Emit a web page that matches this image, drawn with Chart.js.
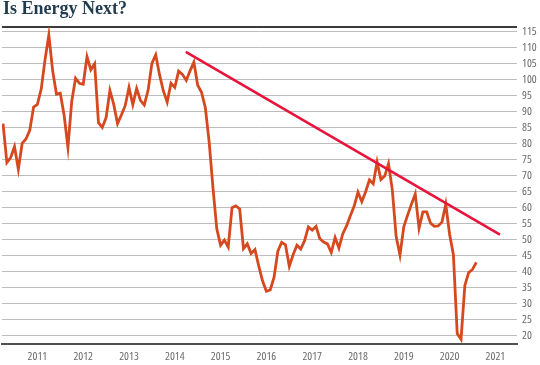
<!DOCTYPE html>
<html><head><meta charset="utf-8">
<script src="https://cdn.jsdelivr.net/npm/chart.js@4"></script>
<style>
html,body{margin:0;padding:0;background:#fff;}
#wrap{position:relative;width:540px;height:365px;overflow:hidden;}
#title{position:absolute;left:3px;top:-1px;font:bold 18px/18px "Liberation Serif","Times New Roman",serif;color:#1f3b4d;white-space:nowrap;}
canvas{position:absolute;left:0;top:0;}
</style></head><body>
<div id="wrap"><canvas id="c" width="540" height="365"></canvas><div id="title">Is Energy Next?</div></div>
<script>
// Month-end prices (first series starts April 2010)
const price2010 = [86.2, 74.0, 75.6, 79.0, 71.9, 80.0, 81.4, 84.1, 91.4]; // Apr-Dec
const price2011 = [92.2, 97.0, 106.2, 113.9, 102.7, 95.4, 95.7, 88.8, 78.8, 93.2, 100.4, 98.8];
const price2012 = [98.5, 107.1, 103.0, 104.9, 86.5, 85.0, 88.1, 96.5, 92.2, 86.2, 88.9, 91.8];
const price2013 = [97.5, 92.1, 97.2, 93.5, 92.0, 96.6, 105.0, 107.7, 101.5, 96.4, 92.9, 98.8];
const price2014 = [97.5, 102.6, 101.6, 99.7, 102.7, 105.4, 98.2, 96.0, 91.2, 80.5, 66.2, 53.3];
const price2015 = [48.2, 49.8, 47.6, 59.9, 60.5, 59.5, 47.1, 48.6, 45.6, 46.8, 41.7, 37.0];
const price2016 = [33.8, 34.2, 38.1, 46.3, 49.1, 48.3, 41.6, 45.2, 48.2, 47.0, 49.6, 53.9];
const price2017 = [52.9, 54.1, 50.2, 49.2, 48.6, 45.9, 50.6, 47.3, 51.7, 54.2, 57.4, 60.4];
const price2018 = [64.8, 61.8, 64.9, 68.6, 67.4, 74.2, 68.7, 69.8, 73.7, 65.4, 50.9, 45.1];
const price2019 = [53.9, 57.6, 61.0, 64.2, 53.5, 58.6, 58.6, 55.1, 54.1, 54.2, 55.4, 61.0];
const price2020 = [51.6, 45.2, 20.6, 18.8, 35.6, 39.6, 40.6, 42.8]; // Jan-Aug

const yearSeries = [
  [2010, 4, price2010], [2011, 1, price2011], [2012, 1, price2012], [2013, 1, price2013],
  [2014, 1, price2014], [2015, 1, price2015], [2016, 1, price2016], [2017, 1, price2017],
  [2018, 1, price2018], [2019, 1, price2019], [2020, 1, price2020]
];

// Trend line end points (decimal year, price)
const trendX = [2014.24, 2021.1];
const trendY = [108.6, 51.5];

const xTicks = [2011, 2012, 2013, 2014, 2015, 2016, 2017, 2018, 2019, 2020, 2021];
const yTicks = [20, 25, 30, 35, 40, 45, 50, 55, 60, 65, 70, 75, 80, 85, 90, 95, 100, 105, 110, 115];

const pricePoints = [];
yearSeries.forEach(([yr, m0, arr]) => {
  arr.forEach((v, i) => pricePoints.push({ x: yr + (m0 - 1 + i) / 12, y: v }));
});
const trendPoints = trendX.map((x, i) => ({ x, y: trendY[i] }));

const topRule = {
  id: 'topRule',
  beforeDraw(chart) {
    // condensed face for tick labels, like the original's narrow figures
    if ('fontStretch' in chart.ctx) chart.ctx.fontStretch = 'condensed';
  },
  beforeDatasetsDraw(chart) {
    const { ctx, chartArea: a } = chart;
    ctx.save();
    ctx.strokeStyle = '#3c3c3c';
    ctx.lineWidth = 2;
    ctx.beginPath();
    ctx.moveTo(a.left, a.top);
    ctx.lineTo(a.right, a.top);
    ctx.stroke();
    ctx.restore();
  }
};

const tickFont = { family: "'Open Sans',Roboto,sans-serif", size: 11.5 };

new Chart(document.getElementById('c'), {
  type: 'line',
  data: {
    datasets: [
      { data: trendPoints, borderColor: '#e8143c', borderWidth: 2.6, pointRadius: 0, tension: 0, order: 0 },
      { data: pricePoints, borderColor: '#d6491f', borderWidth: 2.8, pointRadius: 0, tension: 0, order: 1 }
    ]
  },
  options: {
    responsive: false,
    animation: false,
    devicePixelRatio: 1,
    layout: { padding: { top: 27, right: 0, bottom: 0, left: 2 } },
    plugins: { legend: { display: false }, tooltip: { enabled: false }, title: { display: false } },
    scales: {
      x: {
        type: 'linear',
        min: 2010.227,
        max: 2021.472,
        afterBuildTicks: s => { s.ticks = xTicks.map(v => ({ value: v })); },
        afterFit: s => { s.height = 21; },
        ticks: { callback: v => String(v), color: '#6a6a6a', font: tickFont, padding: 6, maxRotation: 0, autoSkip: false },
        grid: { display: false, drawTicks: false },
        border: { display: true, color: '#505050', width: 2 }
      },
      y: {
        position: 'right',
        min: 17.3,
        max: 116.4,
        afterBuildTicks: s => { s.ticks = yTicks.map(v => ({ value: v })); },
        afterFit: s => { s.width = 23; },
        ticks: { color: '#6a6a6a', font: tickFont, padding: 5, autoSkip: false },
        grid: { color: '#bdbdbd', lineWidth: 1, drawTicks: false },
        border: { display: false }
      }
    }
  },
  plugins: [topRule]
});
</script>
</body></html>
